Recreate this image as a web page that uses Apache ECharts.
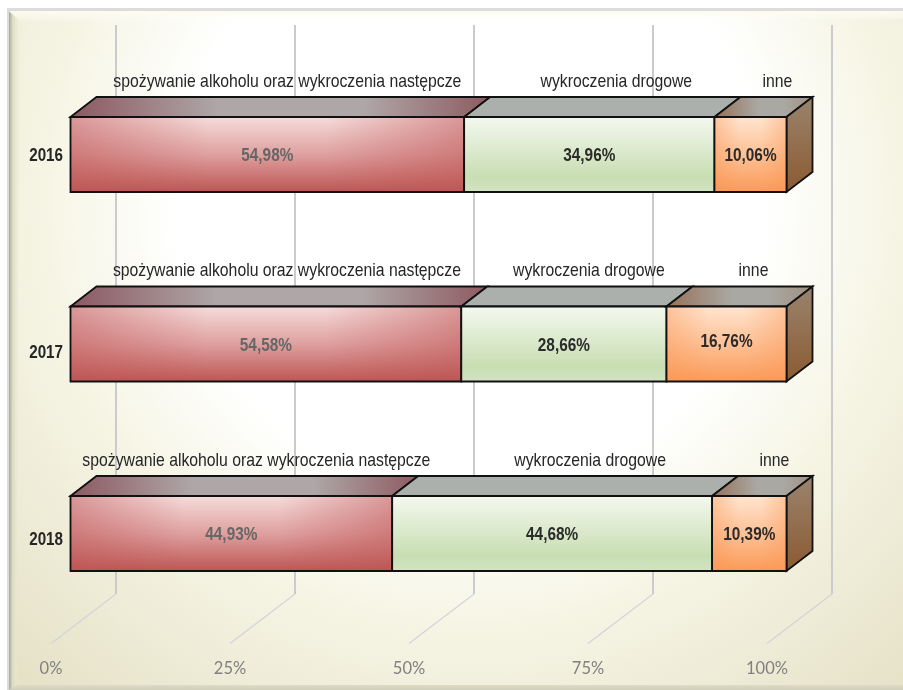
<!DOCTYPE html>
<html><head><meta charset="utf-8">
<style>html,body{margin:0;padding:0;background:#fff;overflow:hidden}#c{width:903px;height:690px}</style>
<script src="https://cdn.jsdelivr.net/npm/echarts@6/dist/echarts.min.js"></script>
</head><body><div id="c"></div>
<script>
const years = ['2016','2017','2018'];
const segmentNames = ['spożywanie alkoholu oraz wykroczenia następcze','wykroczenia drogowe','inne'];
const alcohol = [54.98,54.58,44.93];
const traffic = [34.96,28.66,44.68];
const other = [10.06,16.76,10.39];
const ticks = [0,25,50,75,100];

// drawing constants
const F = 19.5, DX = 26, DY = -20, BAR_H = 75, STROKE = '#111111';
const SANS = '"Liberation Sans",sans-serif';
const nameShift = [[20,27,27],[21,25,27],[25,38,25]];
const valueNudge = [[0,0,0],[0,0,-4],[0,0,0]];
const yearNudge = [1.5,8.5,6.5];
const G = (x,y,x2,y2,s)=>new echarts.graphic.LinearGradient(x,y,x2,y2,s.map((c,i)=>({offset:c[0],color:c[1]})));
const styles = [
 {front:G(0,0,0,1,[[0,'#f5dcdb'],[.5,'#dea09f'],[1,'#bd5654']]),
  edge:'rgba(190,85,85,0.5)',
  top:G(0,0,1,0,[[0,'#8c5860'],[.35,'#aea6a7'],[.7,'#aea6a7'],[1,'#8e5a60']]),text:'#666666'},
 {front:G(0,0,0,1,[[0,'#f4f8ef'],[.8,'#c8deb2'],[1,'#d2e3c2']]),
  edge:'rgba(255,255,255,0)',
  top:'#abb0ac',text:'#2b2b2b'},
 {front:G(0,0,0,1,[[0,'#ffe4cf'],[.55,'#fdbd8f'],[1,'#fb9a58']]),
  edge:'rgba(251,150,85,0.4)',
  top:G(0,0,1,0,[[0,'#957058'],[.45,'#aaa8a3'],[.7,'#aaa8a3'],[1,'#a08f80']]),text:'#2b2b2b'}
];
const side = G(0,0,0,1,[[0,'#9a846f'],[1,'#8b5a30']]);
const seriesVals = [alcohol,traffic,other];

function label(x,y,text,fill,font,scale,align){
  return {type:'text',x:x,y:y,scaleX:scale,scaleY:1,style:{x:0,y:0,text:text,fill:fill,font:font,textAlign:align||'center',textVerticalAlign:'middle'}};
}
function segRender(segIdx){
  return function(params,api){
    const cat = api.value(1), start = api.value(2), v = api.value(0);
    const p0 = api.coord([start,cat]), p1 = api.coord([start+v,cat]);
    const x0 = p0[0]+F, x1 = p1[0]+F, y0 = p0[1]-BAR_H/2, y1 = y0+BAR_H;
    const st = styles[segIdx], kids = [];
    const sty = {stroke:STROKE,lineWidth:1.8,lineJoin:'miter'};
    kids.push({type:'polygon',shape:{points:[[x0,y0],[x0+DX,y0+DY],[x1+DX,y0+DY],[x1,y0]]},style:Object.assign({fill:st.top},sty)});
    if(segIdx===2){
      kids.push({type:'polygon',shape:{points:[[x1,y0],[x1+DX,y0+DY],[x1+DX,y1+DY],[x1,y1]]},style:Object.assign({fill:side},sty)});
    }
    kids.push({type:'rect',shape:{x:x0,y:y0,width:x1-x0,height:BAR_H},style:{fill:st.front}});
    kids.push({type:'rect',shape:{x:x0,y:y0,width:x1-x0,height:BAR_H},style:{
      fill:G(0,0,1,0,[[0,st.edge],[.35,st.edge.replace(/[\d.]+\)$/,'0)')],[.65,st.edge.replace(/[\d.]+\)$/,'0)')],[1,st.edge]])}});
    kids.push({type:'rect',shape:{x:x0,y:y0,width:x1-x0,height:BAR_H},style:Object.assign({fill:'none'},sty)});
    kids.push(label((x0+x1)/2,(y0+y1)/2+1.5+valueNudge[cat][segIdx],v.toFixed(2).replace('.',',')+'%',st.text,'bold 19px '+SANS,0.81));
    kids.push(label((x0+x1)/2+nameShift[cat][segIdx],y0-35.5,segmentNames[segIdx],'#262626','19px '+SANS,0.83));
    if(segIdx===0){
      kids.push(label(63,p0[1]+yearNudge[cat],years[cat],'#262626','bold 19px '+SANS,0.8,'right'));
    }
    return {type:'group',children:kids};
  };
}
const segSeries = seriesVals.map((vals,si)=>({
  type:'custom',name:segmentNames[si],z:3,coordinateSystem:'cartesian2d',
  encode:{x:0,y:1},renderItem:segRender(si),
  data:vals.map((v,ci)=>{let s=0;for(let k=0;k<si;k++)s+=seriesVals[k][ci];return [v,ci,s];})
}));
const gridSeries = {type:'custom',z:1,silent:true,coordinateSystem:'cartesian2d',encode:{x:0,y:1},
  data:ticks.map(t=>[t,0]),
  renderItem(p,api){
    const x = api.coord([api.value(0),0])[0];
    return {type:'group',children:[
      {type:'line',shape:{x1:x+65,y1:25,x2:x+65,y2:594},style:{stroke:'#cbcbcd',lineWidth:2}},
      {type:'line',shape:{x1:x+65,y1:594,x2:x,y2:643.5},style:{stroke:'#d2d4da',lineWidth:1.2}}
    ]};
  }};
const chart = echarts.init(document.getElementById('c'),null,{renderer:'canvas'});
chart.setOption({
  animation:false,backgroundColor:'#ffffff',
  graphic:{elements:[
    {type:'rect',z:-10,silent:true,shape:{x:7,y:8,width:896,height:682},style:{fill:'#dcdcdc'}},
    {type:'rect',z:-9,silent:true,shape:{x:9,y:11,width:894,height:679},style:{
      fill:new echarts.graphic.RadialGradient(470,200,650,[{offset:0,color:'#ffffff'},{offset:.45,color:'#ffffff'},{offset:.65,color:'#f6f5e5'},{offset:1,color:'#e6e2c8'}],true)}},
    {type:'polygon',z:-8,silent:true,shape:{points:[[9,11],[21,22],[18,300],[17,685],[9,690]]},style:{
      fill:G(0,0,1,0,[[0,'#a9a992'],[.3,'#dcdcc4'],[1,'rgba(240,240,220,0.2)']])}},
    {type:'polygon',z:-8,silent:true,shape:{points:[[9,11],[903,11],[903,19],[21,22]]},style:{
      fill:G(0,0,0,1,[[0,'#fbfbee'],[1,'rgba(255,255,255,0)']])}},
    {type:'polygon',z:-8,silent:true,shape:{points:[[17,685],[903,685],[903,690],[9,690]]},style:{
      fill:G(0,0,0,1,[[0,'#dedcc6'],[1,'#cfcdb8']])}}
  ]},
  grid:{left:51,width:716,top:59.75,height:568.5,containLabel:false},
  xAxis:{type:'value',min:0,max:100,interval:25,
    axisLine:{show:false},axisTick:{show:false},splitLine:{show:false},
    axisLabel:{margin:32,color:'#808080',fontFamily:'Lato',fontSize:16.5,formatter:'{value}%'}},
  yAxis:{type:'category',inverse:true,data:years,
    axisLine:{show:false},axisTick:{show:false},splitLine:{show:false},axisLabel:{show:false}},
  series:[gridSeries].concat(segSeries)
});
</script></body></html>
